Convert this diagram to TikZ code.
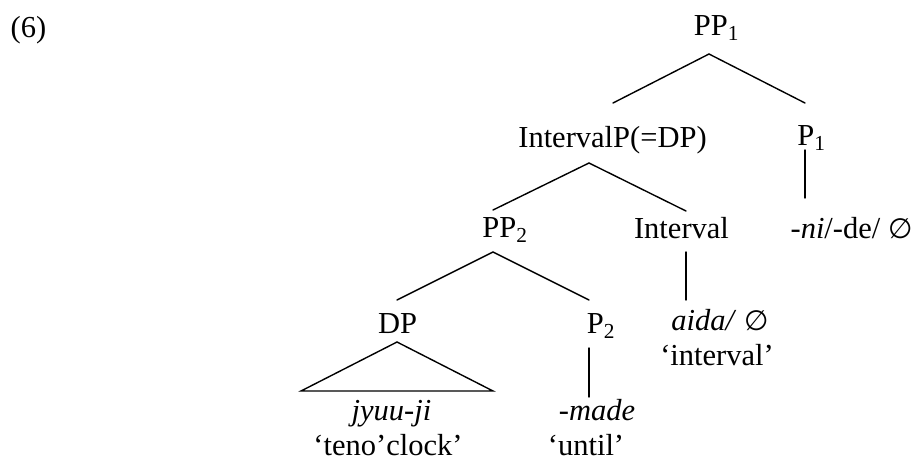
\documentclass[tikz,border=0pt]{standalone}
\usepackage{fontspec}
\setmainfont{Liberation Serif}
\newfontfamily\symfont{DejaVu Sans}
\usetikzlibrary{calc}
\newcommand{\emptyglyph}{{\symfont\fontsize{28}{36}\selectfont ∅}}
\begin{document}
\begin{tikzpicture}[x=1pt,y=-1pt,
  lbl/.style={inner sep=0pt, anchor=base, font=\fontsize{30.5}{36}\selectfont},
  branch/.style={line width=1.4pt, line cap=round, line join=miter}]
\useasboundingbox (0,0) rectangle (916,467);
\node[lbl] (ex) at (28.5,37) {(6)};
\node[lbl] (PP1) at (716.5,35) {PP\textsubscript{1}};
\node[lbl] (IP) at (612.5,147) {IntervalP(=DP)};
\node[lbl] (P1) at (811.5,145) {P\textsubscript{1}};
\node[lbl] (PP2) at (505,237) {PP\textsubscript{2}};
\node[lbl] (Int) at (681.5,238) {Interval};
\node[lbl] (nide) at (851.5,238) {\textit{-ni}/-de/ \emptyglyph};
\node[lbl] (DP) at (397.5,333) {DP};
\node[lbl] (P2) at (601,333) {P\textsubscript{2}};
\node[lbl] (aida) at (720,330) {\textit{aida/} \emptyglyph};
\node[lbl] (intgl) at (717,365) {`interval'};
\node[lbl] (jyuu) at (391.5,420) {\textit{jyuu-ji}};
\node[lbl] (teno) at (388,455) {`teno'clock'};
\node[lbl] (made) at (597,420) {\textit{-made}};
\node[lbl] (until) at (586,455) {`until'};
% branches
\draw[branch] ($(IP.base)+(0.5,-44)$) -- ($(PP1.base)+(-7.5,19)$) -- ($(P1.base)+(-6.5,-42)$);
\draw[branch] ($(PP2.base)+(-12,-27)$) -- ($(IP.base)+(-23.5,16)$) -- ($(Int.base)+(4.5,-27)$);
\draw[branch] ($(P1.base)+(-6.5,5)$) -- ($(nide.base)+(-46.5,-40)$);
\draw[branch] ($(DP.base)+(-0.5,-33)$) -- ($(PP2.base)+(-12,15)$) -- ($(P2.base)+(-12,-33)$);
\draw[branch] ($(Int.base)+(4.5,14)$) -- ($(aida.base)+(-34,-30)$);
\draw[branch] ($(DP.base)+(-0.5,9)$) -- ($(jyuu.base)+(-90.5,-29)$) -- ($(jyuu.base)+(101.5,-29)$) -- cycle;
\draw[branch] ($(P2.base)+(-12,15)$) -- ($(made.base)+(-8,-23)$);
\end{tikzpicture}
\end{document}
